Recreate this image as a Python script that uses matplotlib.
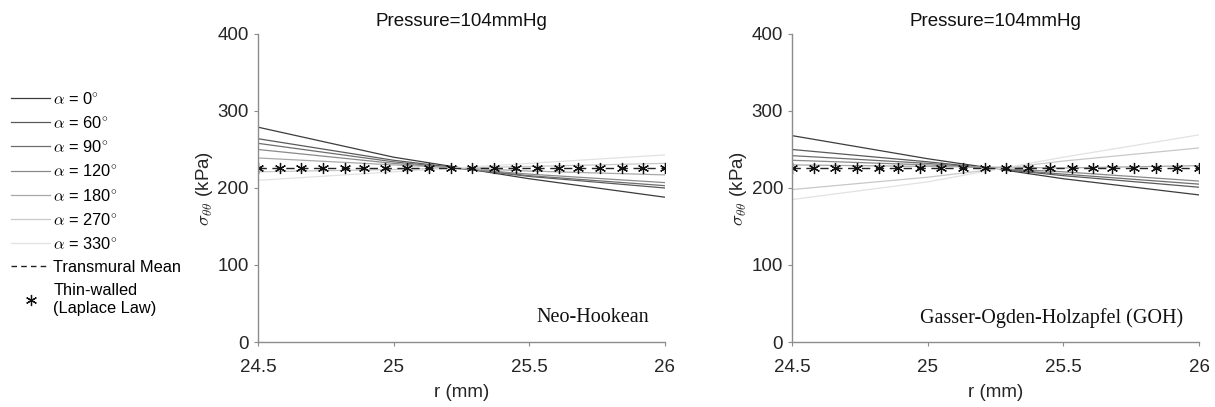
import matplotlib

matplotlib.use("Agg")
import matplotlib.pyplot as plt
from matplotlib.lines import Line2D

plt.rcParams["font.family"] = ["Liberation Sans", "DejaVu Sans"]
plt.rcParams["mathtext.fontset"] = "cm"

# radial positions where the curves are sampled (mm)
r_samples = [24.5, 25.0, 25.5, 26.0]

angle_labels = [0, 60, 90, 120, 180, 270, 330]
line_colors = ["#3c3c3c", "#5a5a5a", "#6e6e6e", "#8a8a8a", "#a8a8a8", "#c8c8c8", "#e2e2e2"]

# circumferential stress (kPa), Neo-Hookean model
neo_stress = [
    [279, 240, 212, 188],
    [264, 236, 215, 200],
    [258, 234, 216, 203],
    [250, 232, 218, 207],
    [239, 230, 222, 217],
    [221, 224, 228, 232],
    [210, 221, 232, 243],
]

# circumferential stress (kPa), GOH model
goh_stress = [
    [268, 238, 212, 191],
    [250, 234, 216, 201],
    [242, 232, 218, 205],
    [236, 230, 221, 209],
    [230, 228, 226, 229],
    [198, 214, 235, 252],
    [185, 208, 240, 269],
]

transmural_mean = [226, 226]
mean_r = [24.5, 26.0]

laplace_r = [24.50, 24.58, 24.66, 24.74, 24.82, 24.89, 24.97, 25.05, 25.13, 25.21,
             25.29, 25.37, 25.45, 25.53, 25.61, 25.68, 25.76, 25.84, 25.92, 26.00]
laplace_stress = 226

panels = [("Neo-Hookean", neo_stress), ("Gasser-Ogden-Holzapfel (GOH)", goh_stress)]

fig = plt.figure(figsize=(12.15, 4.07), dpi=100)
axes = [
    fig.add_axes([0.2123, 0.1597, 0.335, 0.7568]),
    fig.add_axes([0.6519, 0.1597, 0.335, 0.7568]),
]

axis_gray = "#8c8c8c"
fs = 13.5
for ax, (model_name, stress) in zip(axes, panels):
    for vals, color in zip(stress, line_colors):
        ax.plot(r_samples, vals, color=color, lw=0.9)
    ax.plot(mean_r, transmural_mean, color="#222222", lw=1.0, ls=(0, (6, 4)))
    ax.plot(laplace_r, [laplace_stress] * len(laplace_r), ls="none", marker=(6, 2, 0),
            ms=8, color="#111111", mew=0.9)

    ax.set_xlim(24.5, 26)
    ax.set_ylim(0, 400)
    ax.set_xticks([24.5, 25, 25.5, 26])
    ax.set_xticklabels(["24.5", "25", "25.5", "26"])
    ax.set_yticks([0, 100, 200, 300, 400])
    for side in ("top", "right"):
        ax.spines[side].set_visible(False)
    for side in ("left", "bottom"):
        ax.spines[side].set_color(axis_gray)
        ax.spines[side].set_linewidth(1.0)
    ax.tick_params(colors=axis_gray, labelcolor="#262626", labelsize=fs, length=3, width=0.8)
    ax.tick_params(axis="x", pad=9)
    ax.set_title("Pressure=104mmHg", fontsize=fs, color="#111111", pad=6)
    ax.set_xlabel("r (mm)", fontsize=fs, color="#262626", labelpad=6)
    ax.set_ylabel(r"$\sigma_{\theta\theta}$ (kPa)", fontsize=fs, color="#262626", labelpad=2)
    ax.text(0.96, 0.078, model_name, transform=ax.transAxes, ha="right", va="center",
            fontsize=14.5, family="Liberation Serif", color="#111111")

handles = [Line2D([], [], color=c, lw=0.9) for c in line_colors]
labels = [rf"$\alpha$ = {a}$^{{\circ}}$" for a in angle_labels]
handles.append(Line2D([], [], color="#222222", lw=1.0, ls=(0, (4, 3))))
labels.append("Transmural Mean")
handles.append(Line2D([], [], ls="none", marker=(6, 2, 0), ms=8, color="#111111", mew=0.9))
labels.append("Thin-walled\n(Laplace Law)")

fig.legend(handles, labels, loc="upper left", bbox_to_anchor=(0.0, 0.805), frameon=False,
           fontsize=11.8, handlelength=2.35, handletextpad=0.2, labelspacing=0.5,
           borderaxespad=0.3)

fig.savefig("out.png", dpi=100)
